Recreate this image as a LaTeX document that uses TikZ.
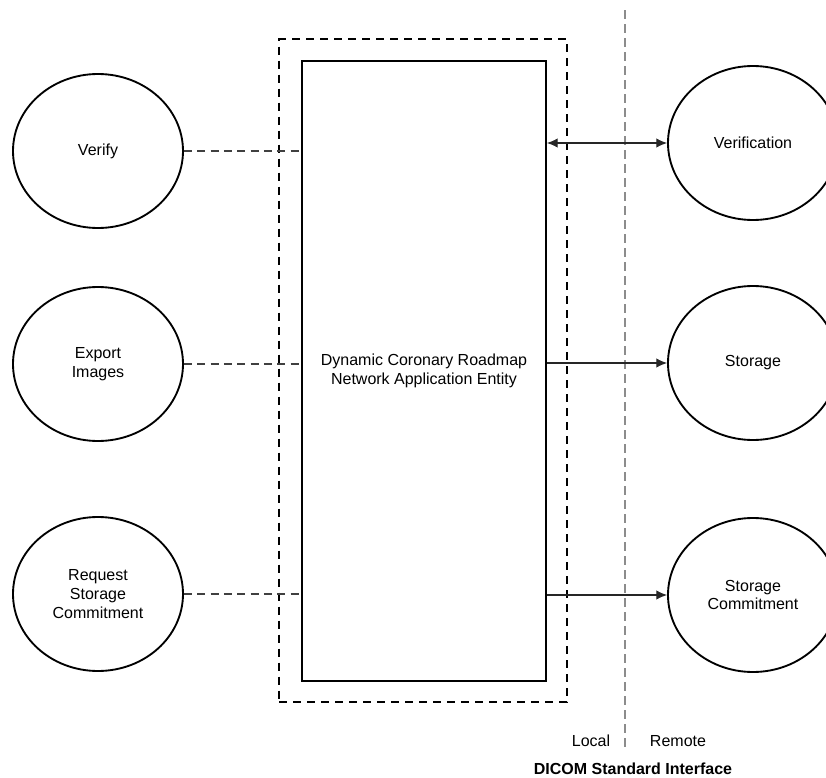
\documentclass[tikz,border=0pt]{standalone}
\usepackage{fontspec}
\setmainfont{Liberation Sans}
\usetikzlibrary{shapes.geometric,arrows.meta}

\tikzset{
    usecase/.style={draw, ellipse, line width=1.4pt, inner sep=0pt,
        minimum width=127.5pt, minimum height=115.5pt, align=center},
    localline/.style={draw=black!75, line width=0.9pt, dash pattern=on 6pt off 4pt},
    remoteline/.style={draw=black!85, line width=0.8pt},
    tip/.style={-{Latex[length=8pt,width=7pt]}},
    boundary/.style={draw=black!45, line width=0.9pt, dash pattern=on 7pt off 3.5pt},
}

\begin{document}
\begin{tikzpicture}[x=0.75pt,y=-0.75pt,
    every node/.style={font=\fontsize{12}{14}\selectfont}]
    \useasboundingbox (0,0) rectangle (826,778);
    \clip (0,0) rectangle (826,778);

    % Local / remote boundary
    \coordinate (bnd-top) at (625,10);
    \coordinate (bnd-bot) at (625,751);
    \draw[boundary] (bnd-top) -- (bnd-bot);

    % Application entity
    \node[draw, line width=1.5pt, dash pattern=on 6pt off 4.5pt,
        minimum width=216pt, minimum height=497pt] (frame) at (423,370.5) {};
    \node[draw, line width=1.4pt, align=center,
        minimum width=183pt, minimum height=465pt] (ae) at (424,371)
        {Dynamic Coronary Roadmap\\Network Application Entity};

    % Local activities
    \node[usecase] (verify) at (98,151) {Verify};
    \node[usecase] (export) at (98,364) {Export\\Images};
    \node[usecase] (request) at (98,594) {Request\\Storage\\Commitment};

    % Remote activities
    \node[usecase] (verification) at (753,143) {Verification};
    \node[usecase] (storage) at (753,363) {Storage};
    \node[usecase] (commit) at (753,595) {Storage\\Commitment};

    % Local links
    \draw[localline] (verify.east) -- (verify.east -| ae.west);
    \draw[localline] (export.east) -- (export.east -| ae.west);
    \draw[localline] (request.east) -- (request.east -| ae.west);

    % Remote links
    \draw[remoteline, {Latex[length=8pt,width=7pt]}-{Latex[length=8pt,width=7pt]}]
        (verification.west -| ae.east) -- (verification.west);
    \draw[remoteline, tip] (storage.west -| ae.east) -- (storage.west);
    \draw[remoteline, tip] (commit.west -| ae.east) -- (commit.west);

    % Labels
    \node (lbl-local) at (591,741) {Local};
    \node (lbl-remote) at (678,741) {Remote};
    \node[font=\fontsize{12}{14}\selectfont\bfseries] (lbl-dicom) at (633,769) {DICOM Standard Interface};
\end{tikzpicture}
\end{document}
